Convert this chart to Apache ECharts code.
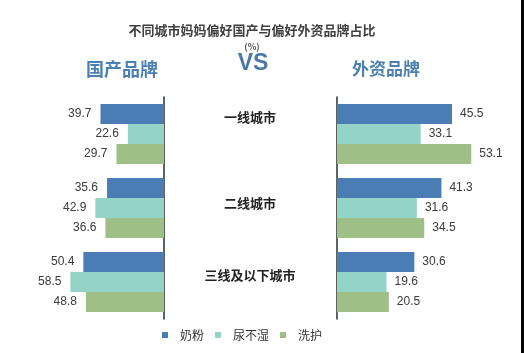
<!DOCTYPE html>
<html><head><meta charset="utf-8">
<script src="https://cdn.jsdelivr.net/npm/echarts@6/dist/echarts.min.js"></script>
<style>html,body{margin:0;padding:0;background:#fff}#c{width:524px;height:353px}</style>
</head><body><div id="c"></div>
<script>
const categories = ['一线城市', '二线城市', '三线及以下城市'];
const seriesNames = ['奶粉', '尿不湿', '洗护'];
const domestic = {
  '奶粉': [39.7, 35.6, 50.4],
  '尿不湿': [22.6, 42.9, 58.5],
  '洗护': [29.7, 36.6, 48.8]
};
const foreign = {
  '奶粉': [45.5, 41.3, 30.6],
  '尿不湿': [33.1, 31.6, 19.6],
  '洗护': [53.1, 34.5, 20.5]
};
const colors = ['#4b7db5', '#93d4c7', '#9ec087'];
const font = '"Noto Sans CJK SC", "Liberation Sans", sans-serif';

const chart = echarts.init(document.getElementById('c'), null, {renderer: 'canvas'});
const labelStyle = {fontSize: 12, color: '#3a3a3a', fontFamily: '"Liberation Sans", sans-serif'};
const series = [];
seriesNames.forEach((n, i) => {
  series.push({
    name: n, type: 'bar', xAxisIndex: 0, yAxisIndex: 0,
    data: domestic[n], barWidth: 20, barGap: '0%',
    itemStyle: {color: colors[i]},
    label: Object.assign({show: true, position: 'left', distance: 9}, labelStyle)
  });
});
seriesNames.forEach((n, i) => {
  series.push({
    name: n, type: 'bar', xAxisIndex: 1, yAxisIndex: 1,
    data: foreign[n], barWidth: 20, barGap: '0%',
    itemStyle: {color: colors[i]},
    label: Object.assign({show: true, position: 'right', distance: 8}, labelStyle)
  });
});

chart.setOption({
  animation: false,
  backgroundColor: '#fff',
  title: [
    {text: '不同城市妈妈偏好国产与偏好外资品牌占比', left: 247, top: 19, textAlign: 'center',
     textStyle: {fontSize: 13, fontWeight: 'bold', color: '#404040', fontFamily: font}},
    {text: '(%)', left: 247, top: 37, textAlign: 'center',
     textStyle: {fontSize: 9, fontWeight: 'bold', color: '#555', fontFamily: font}},
    {text: 'VS', left: 248, top: 47, textAlign: 'center',
     textStyle: {fontSize: 23, fontWeight: 'bold', color: '#4a78a8', fontFamily: '"Liberation Sans", sans-serif'}},
    {text: '国产品牌', left: 117, top: 55, textAlign: 'center',
     textStyle: {fontSize: 18, fontWeight: 'bold', color: '#4c80b1', fontFamily: font}},
    {text: '外资品牌', left: 381, top: 55, textAlign: 'center',
     textStyle: {fontSize: 17, fontWeight: 'bold', color: '#4c80b1', fontFamily: font}}
  ],
  legend: {
    data: seriesNames, top: 324, left: 157,
    icon: 'rect', itemWidth: 6, itemHeight: 6, itemGap: 11,
    textStyle: {fontSize: 12, color: '#333', fontFamily: font, padding: [0, 0, 0, 7]}
  },
  grid: [
    {left: 4, width: 160, top: 97, height: 222},
    {left: 337, width: 177, top: 97, height: 222}
  ],
  xAxis: [
    {type: 'value', gridIndex: 0, min: 0, max: 100, inverse: true, show: false},
    {type: 'value', gridIndex: 1, min: 0, max: 70, show: false}
  ],
  yAxis: [
    {type: 'category', gridIndex: 0, data: categories, inverse: true, position: 'right',
     axisLine: {show: true, lineStyle: {color: '#24322a', width: 1.5}},
     axisTick: {show: false}, splitLine: {show: false},
     axisLabel: {show: true, margin: 86, align: 'center', fontSize: 13, fontWeight: 'bold', color: '#222', fontFamily: font,
       formatter: (v, i) => '{l' + i + '|' + v + '}',
       rich: {
         l0: {fontSize: 13, fontWeight: 'bold', color: '#222', fontFamily: font, padding: [0, 0, 34, 0]},
         l1: {fontSize: 13, fontWeight: 'bold', color: '#222', fontFamily: font, padding: [0, 0, 10, 0]},
         l2: {fontSize: 13, fontWeight: 'bold', color: '#222', fontFamily: font, padding: [0, 0, 14, 0]}
       }}},
    {type: 'category', gridIndex: 1, data: categories, inverse: true, position: 'left',
     axisLine: {show: true, lineStyle: {color: '#24322a', width: 1.5}},
     axisTick: {show: false}, splitLine: {show: false}, axisLabel: {show: false}}
  ],
  graphic: [
    {type: 'rect', right: 0, top: 0, shape: {width: 3, height: 353}, style: {fill: '#000'}}
  ],
  series: series
});
</script></body></html>
